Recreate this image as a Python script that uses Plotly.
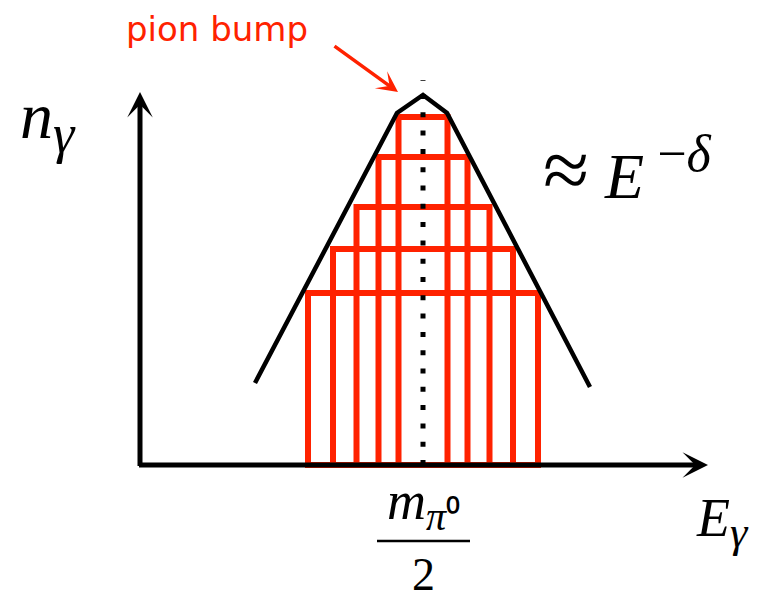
import plotly.graph_objects as go

# ---- data (x: energy offset from m_pi0/2, y: photon number above baseline) ----
bar_heights = [348, 308, 258, 216, 172]
bar_widths = [49, 89, 133, 180, 230]
bar_center = 0

curve_x = [-168, -26, 0, 24, 167]
curve_y = [82, 352, 370, 352, 78]

peak_line_x = [0, 0]
peak_line_y = [0, 385]

label_bump = "pion bump"
label_ny = "<i>n</i><sub><span style='font-size:54px'><i>γ</i></span></sub>"
label_power = ("<span style='font-size:84px'>≈</span>&nbsp;<i>E</i>"
               "<sup><span style='font-size:52px'>&nbsp;−<i>δ</i></span></sup>")
label_num = "<i>m</i><sub><span style='font-size:40px'><i>π</i>⁰</span></sub>"
label_den = "2"
label_e = "<i>E</i><sub><span style='font-size:44px'><i>γ</i></span></sub>"

RED = "#ff2200"

fig = go.Figure()

for h, w in zip(bar_heights, bar_widths):
    fig.add_trace(go.Bar(
        x=[bar_center], y=[h], width=[w], base=0,
        marker=dict(color="rgba(0,0,0,0)", line=dict(color=RED, width=6)),
        hoverinfo="skip", showlegend=False))

fig.add_trace(go.Scatter(x=curve_x, y=curve_y, mode="lines",
                         line=dict(color="black", width=4.5),
                         hoverinfo="skip", showlegend=False))

fig.add_trace(go.Scatter(x=peak_line_x, y=peak_line_y, mode="lines",
                         line=dict(color="black", width=5, dash="5px,13.3px"),
                         hoverinfo="skip", showlegend=False))

serif = "Liberation Serif"
ann = []
# axes arrows
ann.append(dict(x=285, y=0, ax=-285.5, ay=0, xref="x", yref="y", axref="x", ayref="y",
                text="", showarrow=True, arrowhead=3, arrowsize=0.85, arrowwidth=5,
                arrowcolor="black"))
ann.append(dict(x=-283, y=373, ax=-283, ay=-2.5, xref="x", yref="y", axref="x", ayref="y",
                text="", showarrow=True, arrowhead=3, arrowsize=0.85, arrowwidth=5,
                arrowcolor="black"))
# pion bump arrow
ann.append(dict(x=-25, y=373, ax=-90, ay=420, xref="x", yref="y", axref="x", ayref="y",
                text="", showarrow=True, arrowhead=3, arrowsize=1.0, arrowwidth=3.5,
                arrowcolor=RED))
ann.append(dict(x=-206, y=436, xref="x", yref="y", text=label_bump, showarrow=False,
                font=dict(family="DejaVu Sans", size=34, color=RED)))
ann.append(dict(x=-405, y=344, xref="x", yref="y", text=label_ny, showarrow=False,
                xanchor="left", font=dict(family=serif, size=66, color="black")))
ann.append(dict(x=118, y=296, xref="x", yref="y", text=label_power, showarrow=False,
                xanchor="left", font=dict(family=serif, size=64, color="black")))
ann.append(dict(x=0, y=-40, xref="x", yref="y", text=label_num, showarrow=False,
                font=dict(family=serif, size=54, color="black")))
ann.append(dict(x=0, y=-109, xref="x", yref="y", text=label_den, showarrow=False,
                font=dict(family=serif, size=46, color="black")))
ann.append(dict(x=271, y=-57, xref="x", yref="y", text=label_e, showarrow=False,
                xanchor="left", font=dict(family=serif, size=54, color="black")))

fig.update_layout(
    width=773, height=583,
    margin=dict(l=0, r=0, t=0, b=0),
    paper_bgcolor="white", plot_bgcolor="white",
    barmode="overlay",
    showlegend=False,
    xaxis=dict(range=[-415, 358], visible=False, fixedrange=True),
    yaxis=dict(range=[-126, 457], visible=False, fixedrange=True),
    annotations=ann,
    shapes=[dict(type="line", xref="x", yref="y", x0=-46, x1=47, y0=-76, y1=-76,
                 line=dict(color="black", width=2.5))],
)

fig.write_html("out.html")
